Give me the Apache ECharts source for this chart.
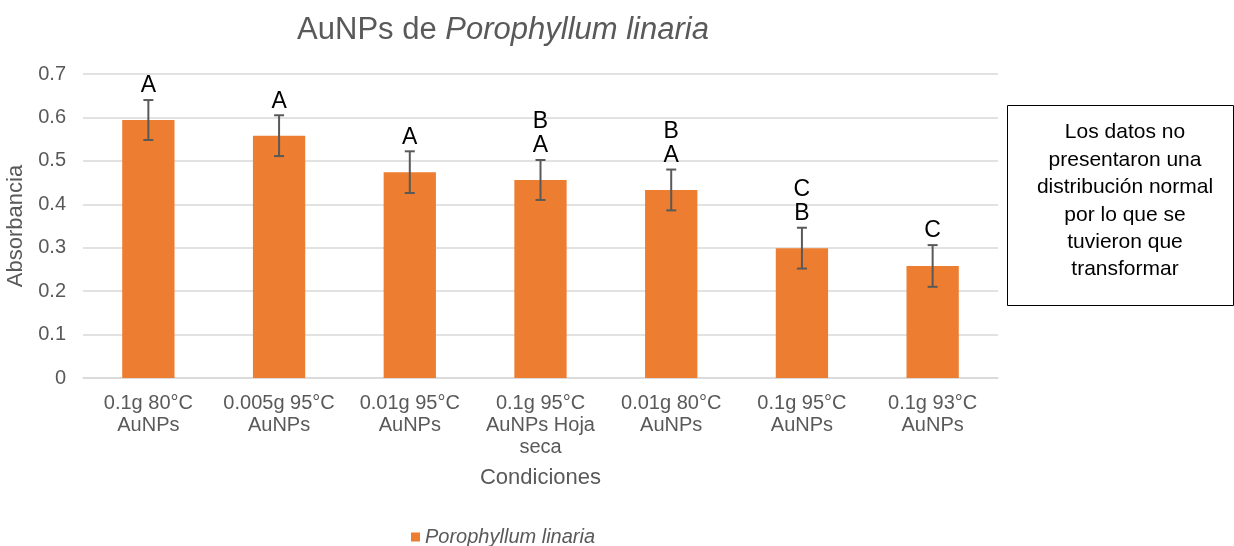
<!DOCTYPE html>
<html>
<head>
<meta charset="utf-8">
<script src="https://cdn.jsdelivr.net/npm/echarts@6/dist/echarts.min.js"></script>
<style>
  html, body { margin: 0; padding: 0; background: #fff; }
  #chart { width: 1234px; height: 546px; }
</style>
</head>
<body>
<div id="chart"></div>
<script>
// datos
const categories = [
  '0.1g 80°C\nAuNPs',
  '0.005g 95°C\nAuNPs',
  '0.01g 95°C\nAuNPs',
  '0.1g 95°C\nAuNPs Hoja\nseca',
  '0.01g 80°C\nAuNPs',
  '0.1g 95°C\nAuNPs',
  '0.1g 93°C\nAuNPs'
]
const means = [0.594, 0.558, 0.474, 0.456, 0.433, 0.299, 0.258]
const errors = [0.046, 0.047, 0.048, 0.046, 0.047, 0.047, 0.048]
const letters = ['A', 'A', 'A', 'B\nA', 'B\nA', 'C\nB', 'C']
const yTicks = [0, 0.7, 0.1]
const seriesName = 'Porophyllum linaria'
const noteLines = ['Los datos no', 'presentaron una', 'distribución normal', 'por lo que se', 'tuvieron que', 'transformar']

const FONT = 'Liberation Sans, Arial, sans-serif'
const GREY = '#595959'

const chart = echarts.init(document.getElementById('chart'))

const errData = means.map((m, i) => [i, m, m + errors[i], m - errors[i]])

const option = {
  animation: false,
  textStyle: { fontFamily: FONT },
  title: {
    text: '{n|AuNPs de }{i|Porophyllum linaria}',
    left: 498,
    top: 10,
    textAlign: 'center',
    textStyle: {
      fontWeight: 'normal',
      rich: {
        n: { fontSize: 31, color: GREY, fontFamily: FONT, fontWeight: 'normal' },
        i: { fontSize: 31, color: GREY, fontFamily: FONT, fontStyle: 'italic', fontWeight: 'normal' }
      }
    }
  },
  legend: {
    data: [seriesName],
    left: 406,
    top: 522,
    icon: 'rect',
    itemWidth: 9,
    itemHeight: 9,
    textStyle: { fontSize: 20, color: GREY, fontStyle: 'italic', fontFamily: FONT }
  },
  grid: { left: 83, right: 236, top: 74, bottom: 168, outerBoundsMode: 'none' },
  xAxis: {
    type: 'category',
    data: categories,
    name: 'Condiciones',
    nameLocation: 'middle',
    nameGap: 89,
    nameTextStyle: { fontSize: 22, color: GREY, fontFamily: FONT },
    axisTick: { show: false },
    axisLine: { lineStyle: { color: '#d9d9d9', width: 1.5 } },
    axisLabel: { interval: 0, fontSize: 20, lineHeight: 22, color: GREY, margin: 14, fontFamily: FONT }
  },
  yAxis: {
    type: 'value',
    min: yTicks[0],
    max: yTicks[1],
    interval: yTicks[2],
    name: 'Absorbancia',
    nameLocation: 'middle',
    nameGap: 56,
    nameTextStyle: { fontSize: 22, color: GREY, fontFamily: FONT },
    axisLabel: { fontSize: 20, color: GREY, margin: 17, fontFamily: FONT },
    splitLine: { lineStyle: { color: '#d9d9d9', width: 1.5 } }
  },
  series: [
    {
      name: seriesName,
      type: 'bar',
      data: means,
      barWidth: '40%',
      itemStyle: { color: '#ED7D31' }
    },
    {
      type: 'custom',
      name: 'err',
      data: errData,
      z: 5,
      renderItem: function (params, api) {
        const x = api.value(0)
        const hi = api.coord([x, api.value(2)])
        const lo = api.coord([x, api.value(3)])
        const cap = 5
        const st = { stroke: GREY, lineWidth: 2 }
        return {
          type: 'group',
          children: [
            { type: 'line', shape: { x1: hi[0], y1: hi[1], x2: lo[0], y2: lo[1] }, style: st },
            { type: 'line', shape: { x1: hi[0] - cap, y1: hi[1], x2: hi[0] + cap, y2: hi[1] }, style: st },
            { type: 'line', shape: { x1: lo[0] - cap, y1: lo[1], x2: lo[0] + cap, y2: lo[1] }, style: st },
            {
              type: 'text',
              style: {
                text: letters[params.dataIndex],
                x: hi[0],
                y: hi[1] - 2,
                align: 'center',
                verticalAlign: 'bottom',
                fontSize: 23,
                lineHeight: 24,
                fontFamily: FONT,
                fill: '#000'
              }
            }
          ]
        }
      }
    }
  ],
  graphic: [
    {
      type: 'rect',
      left: 1007,
      top: 105,
      shape: { width: 226, height: 200 },
      style: { fill: '#fff', stroke: '#000', lineWidth: 1 }
    },
    {
      type: 'text',
      x: 1125,
      y: 119,
      style: {
        text: noteLines.join('\n'),
        align: 'center',
        verticalAlign: 'top',
        fontSize: 21,
        lineHeight: 27.4,
        fontFamily: FONT,
        fill: '#000'
      }
    }
  ]
}

chart.setOption(option)
</script>
</body>
</html>
